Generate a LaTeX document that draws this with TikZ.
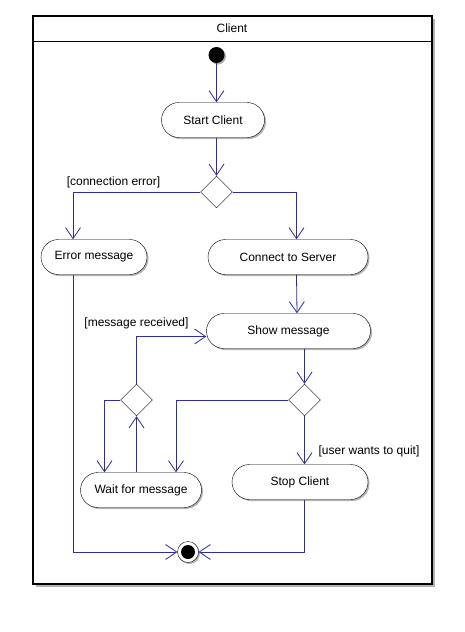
\documentclass[tikz,border=0pt]{standalone}
\usepackage{fontspec}
\setmainfont{Liberation Sans}
\usetikzlibrary{arrows.meta, positioning, shapes.misc, shapes.geometric, shadows}
\definecolor{flowblue}{RGB}{45,45,160}

\begin{document}
\begin{tikzpicture}[
        x=1pt, y=-1pt,
        every node/.style={font=\fontsize{12}{14}\selectfont},
        boxshadow/.style={drop shadow={shadow xshift=1.5pt, shadow yshift=-1.5pt, fill=black!30, opacity=1}},
        action/.style={draw, rounded rectangle, fill=white, minimum height=35pt, inner sep=0pt, boxshadow},
        decision/.style={draw, diamond, fill=white, minimum width=32pt, minimum height=32pt, inner sep=0pt},
        guard/.style={inner sep=0pt},
        flow/.style={draw=flowblue, line width=0.8pt, -{Straight Barb[length=11pt, width=15pt]}},
    ]
    \useasboundingbox (0,0) rectangle (464,632);

    % swimlane frame
    \fill[black!30] (35.5,18.5) rectangle (434.5,587);
    \draw[line width=1.6pt, fill=white] (33,16) rectangle (432,584);
    \draw[line width=1.6pt] (33,41.5) -- (432,41.5);
    \node (lane) at (232,28.5) {Client};

    % nodes
    \node (init) at (216.5,55) [circle, fill=black, minimum size=16pt, inner sep=0pt, boxshadow] {};
    \node (start) at (213,120) [action, minimum width=103pt] {Start Client};
    \node (d1) at (216.5,192) [decision] {};
    \node (err) at (94,257) [action, minimum width=106pt] {Error message};
    \node (conn) at (288,257) [action, minimum width=160pt] {Connect to Server};
    \node (show) at (288.5,331) [action, minimum width=164pt] {Show message};
    \node (d2) at (136.5,400) [decision] {};
    \node (d3) at (304.5,400) [decision] {};
    \node (wait) at (141,490) [action, minimum width=121pt] {Wait for message};
    \node (stop) at (300,482) [action, minimum width=136pt] {Stop Client};
    \node (fin) at (188,552) [circle, draw, fill=white, minimum size=21pt, inner sep=0pt, boxshadow] {};
    \node (finDot) at (fin) [circle, fill=black, minimum size=14pt, inner sep=0pt] {};

    % guards
    \node (gErr) at (113.5,182.5) [guard] {[connection error]};
    \node (gRecv) at (136.5,323) [guard] {[message received]};
    \node (gQuit) at (369,451) [guard] {[user wants to quit]};

    % transitions
    \draw[flow] (init) -- (start.north -| init);
    \draw[flow] (start.south -| d1) -- (d1.north);
    \draw[flow] (d1.west) -| ([xshift=-21pt]err.north);
    \draw[flow] (d1.east) -| ([xshift=8.5pt]conn.north);
    \draw[flow] ([xshift=8.5pt]conn.south) -- ([xshift=8.5pt]show.north);
    \draw[flow] (show.south -| d3) -- (d3.north);
    \draw[flow] (d2.north) |- ([yshift=-5.5pt]show.west);
    \draw[flow] (d2.west) -| ([xshift=-36.5pt]wait.north);
    \draw[flow] (d3.west) -| ([xshift=35pt]wait.north);
    \draw[flow] (wait.north -| d2) -- (d2.south);
    \draw[flow] (d3.south) -- (stop.north -| d3);
    \draw[flow] ([xshift=-21pt]err.south) |- (fin.west);
    \draw[flow] (stop.south -| d3) |- (fin.east);
\end{tikzpicture}
\end{document}
